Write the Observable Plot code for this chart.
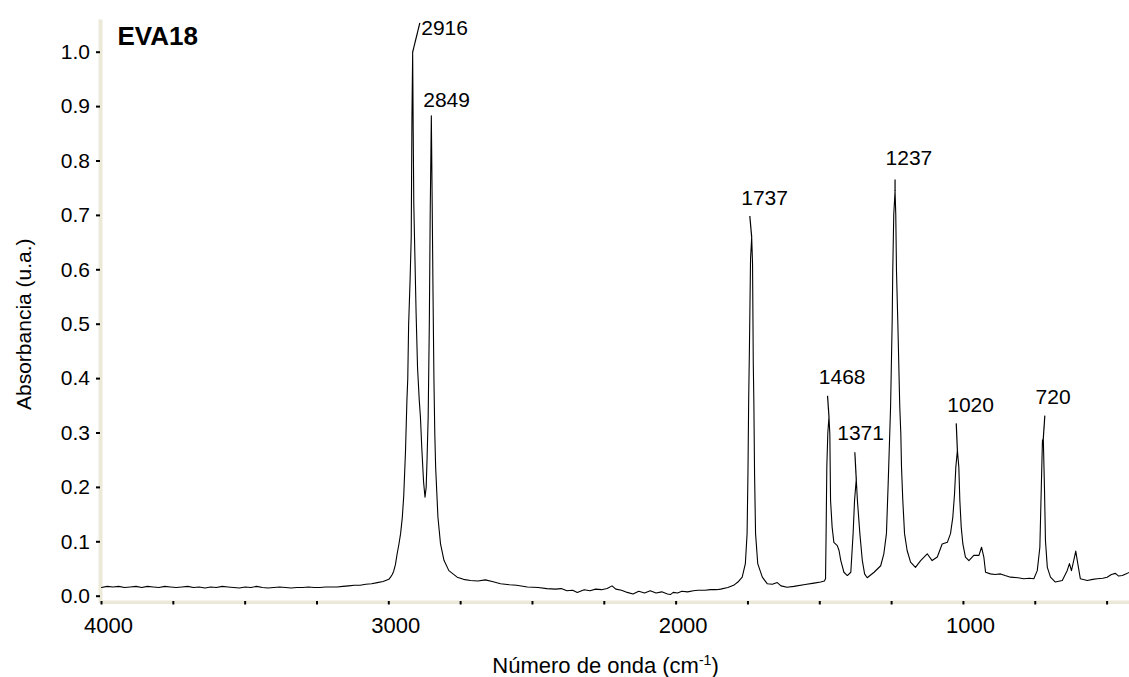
<!DOCTYPE html>
<html><head><meta charset="utf-8">
<script src="https://cdn.jsdelivr.net/npm/d3@7"></script>
<script src="https://cdn.jsdelivr.net/npm/@observablehq/plot@0.6"></script>
<style>body{margin:0;background:#fff}</style>
</head><body><div id="chart"></div>
<script>
// Spectrum (wavenumber cm-1, absorbance)
const wavenumber = [
4000,3980,3960,3940,3920,3900,3880,3860,3840,3820,3800,3780,3760,3740,3720,3700,3680,3660,3640,3620,
3600,3580,3560,3540,3520,3500,3480,3460,3440,3420,3400,3380,3360,3340,3320,3300,3280,3260,3240,3220,
3200,3180,3160,3140,3120,3100,3080,3060,3040,3020,3000,2994,2988,2983,2977,2971,2965,2959,2953,2948,
2942,2937,2934,2931,2926,2922,2919.5,2917,2915,2913,2909,2905,2900,2894,2890,2885,2879,2874,2870,2867,
2863,2859,2856,2852,2849,2846,2843,2840,2837,2829,2820,2808,2791,2762,2740,2716,2690,2664,2640,2611,
2580,2555,2518,2480,2450,2420,2400,2380,2360,2344,2320,2300,2280,2260,2240,2223,2210,2190,2170,2150,
2130,2110,2090,2070,2050,2030,2020,2010,1995,1980,1960,1940,1924,1900,1880,1860,1845,1820,1800,1785,
1770,1759,1753,1750,1747.5,1745,1741,1737,1734,1731.5,1729.5,1727,1723.5,1716,1700,1683,1665,1648,1635,1614,
1590,1551,1520,1497,1484,1480,1478,1475.5,1472,1468,1465,1462.5,1457,1451,1439,1433,1427,1416,1404,1392,
1384,1379,1373,1369,1360.5,1352,1344,1335,1311,1288,1277,1268,1262,1256.5,1253.5,1248,1246,1242.5,1238,1235.5,
1233,1228.5,1221.5,1218,1215.5,1211,1205,1196,1184,1167,1149,1126,1109,1091,1074,1056,1045,1037,1031,1026.5,
1021,1016,1012.5,1007.7,1002,993,981,964,946,937,929,923,906,890,871,855,836,810,790,770,
755,743,734,729,725,722,718,714.5,708,697,680,656,639,631,624,616,609,602,593,569,
550,534,515,500,485,471,460,447,435,422
];
const absorbance = [
0.016,0.018,0.017,0.018,0.016,0.017,0.018,0.016,0.018,0.017,0.016,0.018,0.017,0.016,0.017,0.018,0.016,0.017,0.015,0.017,
0.016,0.018,0.017,0.016,0.015,0.017,0.016,0.018,0.016,0.015,0.016,0.017,0.016,0.015,0.016,0.016,0.017,0.016,0.016,0.017,
0.017,0.017,0.018,0.019,0.020,0.020,0.022,0.023,0.025,0.027,0.031,0.035,0.040,0.046,0.058,0.078,0.095,0.115,0.145,0.185,
0.265,0.36,0.40,0.50,0.58,0.66,0.88,1.00,0.85,0.72,0.62,0.52,0.42,0.36,0.33,0.27,0.21,0.182,0.20,0.25,
0.33,0.50,0.70,0.883,0.72,0.55,0.40,0.30,0.237,0.145,0.096,0.066,0.047,0.035,0.031,0.029,0.028,0.030,0.027,0.023,
0.021,0.020,0.017,0.016,0.014,0.013,0.014,0.010,0.011,0.007,0.012,0.010,0.013,0.012,0.014,0.019,0.013,0.011,0.007,0.004,
0.009,0.006,0.010,0.006,0.008,0.004,0.003,0.007,0.006,0.009,0.008,0.010,0.011,0.011,0.012,0.012,0.013,0.016,0.020,0.026,
0.035,0.060,0.115,0.225,0.36,0.45,0.62,0.66,0.61,0.43,0.36,0.225,0.115,0.060,0.035,0.023,0.022,0.025,0.019,0.0165,
0.018,0.0215,0.024,0.026,0.028,0.032,0.115,0.237,0.30,0.33,0.298,0.176,0.127,0.099,0.093,0.084,0.066,0.044,0.038,0.044,
0.115,0.176,0.215,0.176,0.115,0.066,0.041,0.034,0.044,0.056,0.078,0.115,0.206,0.298,0.35,0.506,0.598,0.702,0.745,0.702,
0.598,0.506,0.347,0.30,0.237,0.176,0.115,0.084,0.0625,0.053,0.0655,0.078,0.0655,0.072,0.096,0.099,0.115,0.145,0.188,0.237,
0.268,0.237,0.176,0.127,0.096,0.072,0.0655,0.075,0.075,0.09,0.072,0.044,0.041,0.040,0.041,0.038,0.035,0.034,0.032,0.033,
0.032,0.047,0.09,0.20,0.286,0.29,0.20,0.102,0.053,0.035,0.026,0.029,0.047,0.060,0.047,0.066,0.083,0.060,0.032,0.029,
0.031,0.032,0.033,0.035,0.040,0.042,0.037,0.038,0.041,0.044
];

// Peak labels and their leader lines
const peakLabels = ["2916","2849","1737","1468","1371","1237","1020","720"];
const labelWn  = [2887.2, 2880.3, 1773.4, 1503.3, 1439.3, 1271.1, 1056.4, 749];
const labelAbs = [1.0435, 0.912, 0.7308, 0.4022, 0.2992, 0.8048, 0.3517, 0.3653];
const leaderWnFrom  = [2917, 1737, 1468, 1373, 1238, 1021, 722];
const leaderAbsFrom = [1.0, 0.66, 0.33, 0.215, 0.745, 0.268, 0.29];
const leaderWnTo    = [2892, 1743.5, 1473, 1378, 1238, 1025, 716.7];
const leaderAbsTo   = [1.054, 0.699, 0.3686, 0.2645, 0.766, 0.3177, 0.332];

const yTickValues = [0,0.1,0.2,0.3,0.4,0.5,0.6,0.7,0.8,0.9,1.0];
const xTickValues = [4000,3000,2000,1000];
const xMinorTicks = [4000,3750,3500,3250,3000,2750,2500,2250,2000,1750,1500,1250,1000,750,500];

const sampleName = "EVA18";
const yTitle = "Absorbancia (u.a.)";
const xTitle = "Número de onda (cm-1)";

const spectrum = wavenumber.map((w, i) => ({wn: w, a: absorbance[i]}));
const labelIdx = peakLabels.map((_, i) => i);
const leaderIdx = leaderWnFrom.map((_, i) => i);
const beige = "#ECE9D8";

const chart = Plot.plot({
  width: 1129, height: 677,
  marginLeft: 101, marginRight: 0, marginTop: 51.7, marginBottom: 81.3,
  x: {domain: [4000, 422], label: null},
  y: {domain: [0, 1], label: null},
  style: {fontFamily: "'Liberation Sans', Arial, sans-serif", background: "#fff", color: "#000"},
  marks: [
    Plot.ruleY([-0.0112], {stroke: beige, strokeWidth: 3.5}),
    Plot.ruleX([4000], {y1: -0.0134, y2: 1.059, stroke: beige, strokeWidth: 4, dx: -1}),
    Plot.axisY({ticks: yTickValues, tickSize: 4, tickPadding: 6.5, dx: -1, strokeWidth: 2,
      tickFormat: d3.format(".1f"), fontSize: 21, label: null}),
    Plot.axisX({ticks: xMinorTicks, tickSize: 3.5, dy: 5.3, strokeWidth: 2,
      tickFormat: () => "", label: null}),
    Plot.axisX({ticks: xTickValues, tickSize: 0, tickPadding: 21.3, dx: 7,
      tickFormat: d3.format("d"), fontSize: 22, label: null}),
    Plot.line(spectrum, {x: "wn", y: "a", stroke: "#000", strokeWidth: 1.1}),
    Plot.link(leaderIdx, {x1: i => leaderWnFrom[i], y1: i => leaderAbsFrom[i],
      x2: i => leaderWnTo[i], y2: i => leaderAbsTo[i], stroke: "#000", strokeWidth: 1.2}),
    Plot.text(labelIdx, {x: i => labelWn[i], y: i => labelAbs[i], text: i => peakLabels[i],
      textAnchor: "start", lineAnchor: "middle", fontSize: 21, fill: "#000"}),
    Plot.text([sampleName], {frameAnchor: "top-left", dx: 16, dy: -15.8, fontWeight: "bold",
      fontSize: 26, textAnchor: "start", lineAnchor: "middle", fill: "#000"}),
    Plot.text([yTitle], {frameAnchor: "left", dx: -77, rotate: -90, fontSize: 21,
      textAnchor: "middle", lineAnchor: "middle", fill: "#000"}),
    Plot.text([xTitle], {frameAnchor: "bottom", dx: -10, dy: 70, fontSize: 22,
      textAnchor: "middle", lineAnchor: "middle", fill: "#000"})
  ]
});

// superscript for cm-1
d3.select(chart).selectAll("text").filter(function() { return this.textContent === xTitle; })
  .each(function() {
    const t = d3.select(this);
    t.text(null);
    t.append("tspan").text("Número de onda (cm");
    t.append("tspan").attr("dy", "-8").attr("font-size", "14").text("-1");
    t.append("tspan").attr("dy", "8").text(")");
  });

document.getElementById("chart").appendChild(chart);
</script>
</body></html>
